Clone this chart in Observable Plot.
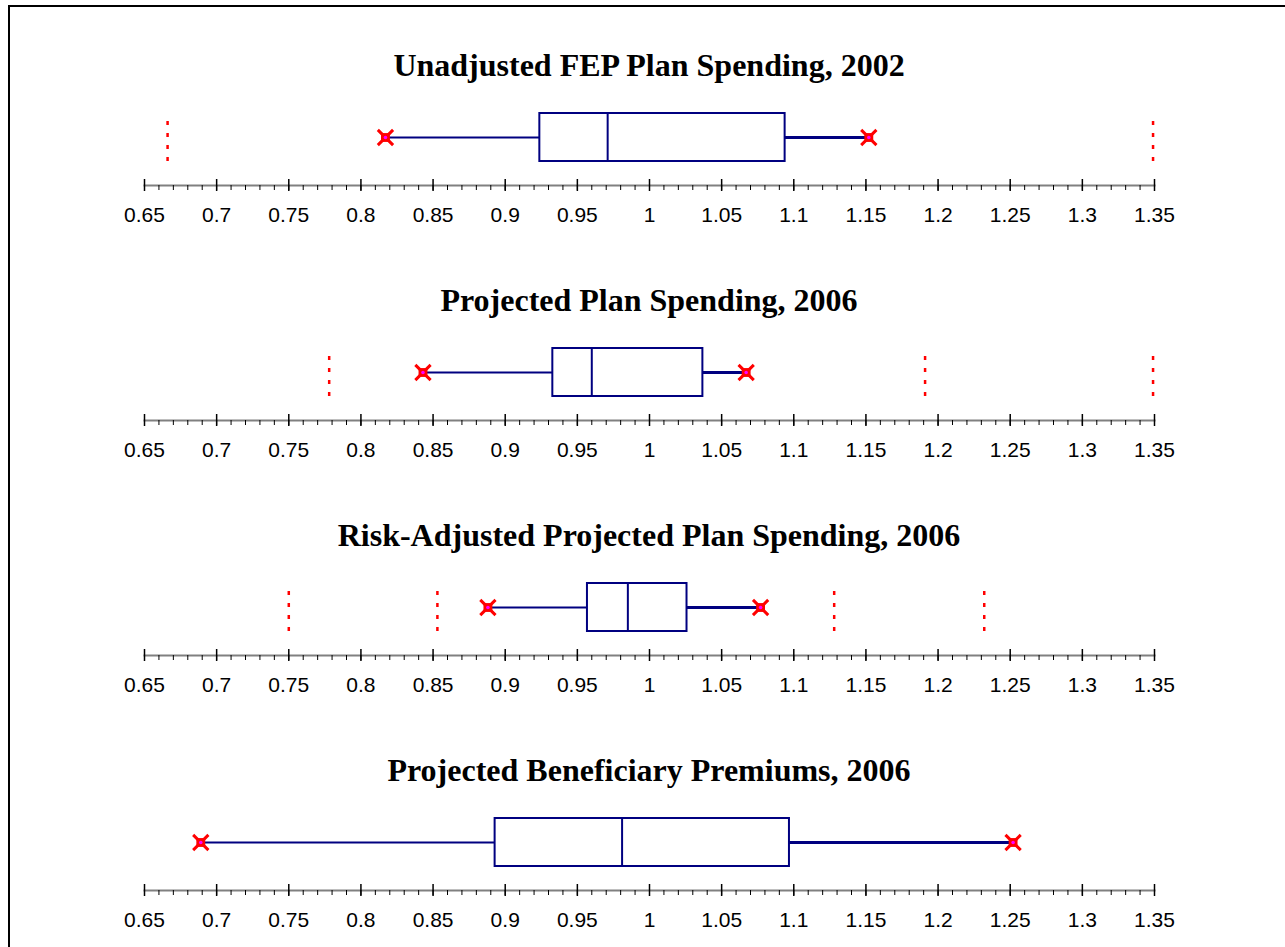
<!DOCTYPE html>
<html>
<head>
<meta charset="utf-8">
<script src="https://cdn.jsdelivr.net/npm/d3@7"></script>
<script src="https://cdn.jsdelivr.net/npm/@observablehq/plot@0.6"></script>
<style>
  html, body { margin: 0; padding: 0; background: #fff; overflow: hidden; }
  #page { position: relative; width: 1285px; height: 947px; overflow: hidden; }
  #border { position: absolute; left: 8px; top: 5px; width: 1400px; height: 1100px;
            border-left: 2px solid #000; border-top: 2px solid #000; }
  .title { position: absolute; left: 144px; width: 1010px; text-align: center;
           font-family: "Liberation Serif", "Times New Roman", serif; font-weight: bold;
           font-size: 32px; line-height: 1; color: #000; white-space: nowrap; }
  .panel { position: absolute; left: 0; }
</style>
</head>
<body>
<div id="page"><div id="border"></div></div>
<script>
// ---- data ----
const panelTitles = [
  "Unadjusted FEP Plan Spending, 2002",
  "Projected Plan Spending, 2006",
  "Risk-Adjusted Projected Plan Spending, 2006",
  "Projected Beneficiary Premiums, 2006"
];
const whiskerLow  = [0.817, 0.843, 0.888, 0.689];
const quartile1   = [0.924, 0.933, 0.957, 0.893];
const medians     = [0.971, 0.960, 0.985, 0.981];
const quartile3   = [1.094, 1.037, 1.026, 1.097];
const whiskerHigh = [1.152, 1.067, 1.077, 1.252];
const referenceLines = [
  [0.666, 1.349],
  [0.778, 1.191, 1.349],
  [0.750, 0.853, 1.128, 1.232],
  []
];
const tickValues = [0.65, 0.7, 0.75, 0.8, 0.85, 0.9, 0.95, 1, 1.05, 1.1, 1.15, 1.2, 1.25, 1.3, 1.35];
const tickLabels = ["0.65", "0.7", "0.75", "0.8", "0.85", "0.9", "0.95", "1", "1.05", "1.1", "1.15", "1.2", "1.25", "1.3", "1.35"];
const minorStep = 0.01;

// ---- drawing ----
const navy = "#000080";
const red = "#ff0000";
const page = document.getElementById("page");
const xDomain = [tickValues[0], tickValues[tickValues.length - 1]];
const minorTicks = d3.range(0, Math.round((xDomain[1] - xDomain[0]) / minorStep) + 1)
  .map(i => +(xDomain[0] + i * minorStep).toFixed(4));
const labelOf = v => tickLabels[tickValues.findIndex(t => Math.abs(t - v) < 1e-9)] ?? "";

const panelGap = 235;
const firstAxis = 185;

panelTitles.forEach((name, i) => {
  const row = {name, lo: whiskerLow[i], q1: quartile1[i], med: medians[i], q3: quartile3[i], hi: whiskerHigh[i]};
  const refs = referenceLines[i].map(v => ({name, v}));
  const ends = [row.lo, row.hi].map(v => ({name, v}));
  const axisY = firstAxis + i * panelGap;

  const title = document.createElement("div");
  title.className = "title";
  title.textContent = name;
  title.style.top = (axisY - 136) + "px";
  page.appendChild(title);

  const chart = Plot.plot({
    width: 1285,
    height: 150,
    marginLeft: 144,
    marginRight: 131,
    marginTop: 0,
    marginBottom: 50,
    style: {background: "transparent", overflow: "visible"},
    x: {domain: xDomain, label: null},
    y: {type: "band", domain: [name], range: [28, 76], padding: 0, axis: null},
    marks: [
      Plot.frame({anchor: "bottom", stroke: "#808080", strokeWidth: 2}),
      Plot.axisX({ticks: minorTicks, tickSize: 5, tickFormat: () => "", stroke: "#000", strokeWidth: 1}),
      Plot.axisX({ticks: tickValues, tickSize: 12, dy: -6, tickFormat: () => "", stroke: "#000", strokeWidth: 1.5}),
      Plot.axisX({ticks: tickValues, tickSize: 0, tickPadding: 22, tickFormat: labelOf,
                  fontSize: 21, fontFamily: "Liberation Sans, Arial, sans-serif", fill: "#000"}),
      Plot.tickX(refs, {x: "v", y: "name", insetTop: 8,
                  stroke: red, strokeWidth: 2.5, strokeDasharray: "4,8"}),
      Plot.ruleY([row], {y: "name", x1: "lo", x2: "q1", stroke: navy, strokeWidth: 2}),
      Plot.ruleY([row], {y: "name", x1: "q3", x2: "hi", stroke: navy, strokeWidth: 3}),
      Plot.barX([row], {y: "name", x1: "q1", x2: "q3", fill: "white", stroke: navy, strokeWidth: 2}),
      Plot.tickX([row], {y: "name", x: "med", stroke: navy, strokeWidth: 2}),
      Plot.dot(ends, {x: "v", y: "name", symbol: "square", r: 5, fill: red, stroke: null}),
      Plot.dot(ends, {x: "v", y: "name", symbol: "times", r: 7, stroke: red, strokeWidth: 3}),
      Plot.dot(ends, {x: "v", y: "name", symbol: "circle", r: 1.8, fill: "#ff00ff", stroke: null})
    ]
  });
  chart.classList.add("panel");
  chart.style.top = (axisY - 100) + "px";
  page.appendChild(chart);
});
</script>
</body>
</html>
